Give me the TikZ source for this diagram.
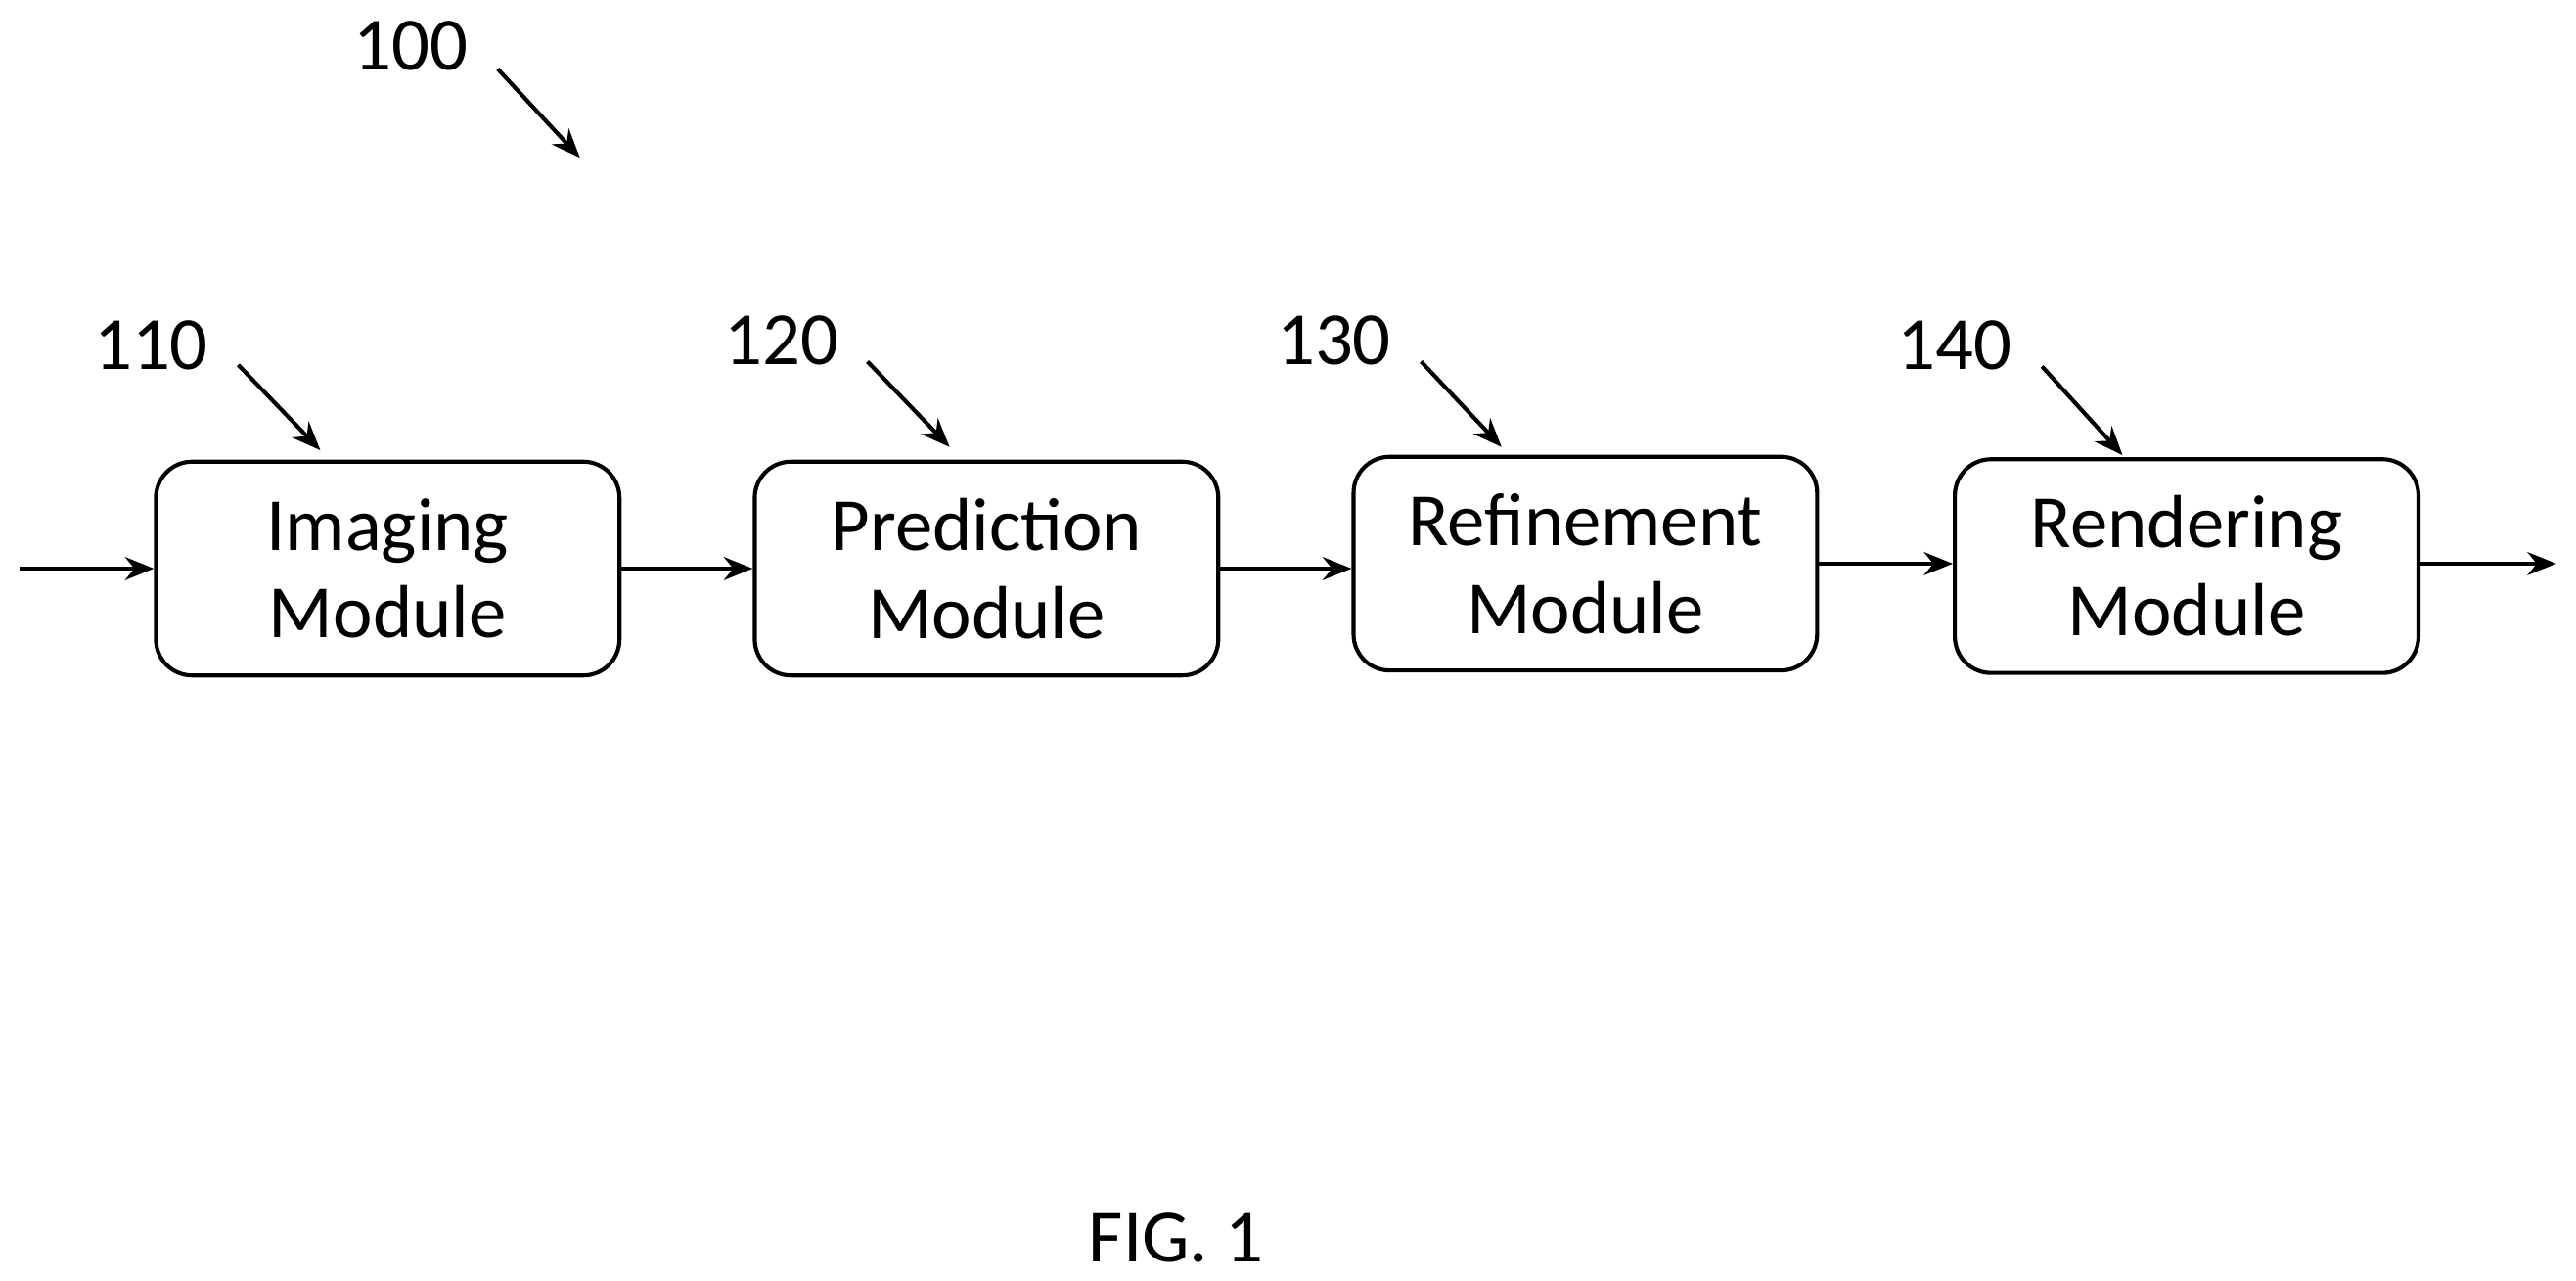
\documentclass[tikz,border=0pt]{standalone}
\usepackage{fontspec}
\setmainfont{Carlito}
\usetikzlibrary{arrows.meta}
\begin{document}
\begin{tikzpicture}[x=0.01cm,y=-0.01cm,
  box/.style={draw,line width=0.7pt,rounded corners=0.22cm,minimum width=2.82cm,minimum height=1.3cm,align=center,inner sep=0pt,font=\fontsize{13}{15.2}\selectfont},
  lbl/.style={font=\fontsize{13}{15}\selectfont,inner sep=0pt},
  arr/.style={line width=0.7pt,-{Stealth[length=5pt,width=4pt]}}]
\useasboundingbox (0,0) rectangle (1568,779.5);
\node[box] (b1) at (236,346) {Imaging\\Module};
\node[box] (b2) at (600.5,346) {Prediction\\Module};
\node[box] (b3) at (965,343) {Refinement\\Module};
\node[box] (b4) at (1331,344.5) {Rendering\\Module};
\coordinate (in) at (12,346);
\coordinate (out) at (1556,343);
\draw[arr] (in) -- (b1.west|-in);
\draw[arr] (b1.east) -- (b2.west);
\draw[arr] (b2.east|-0,346) -- (b3.west|-0,346);
\draw[arr] (b3.east|-0,343) -- (b4.west|-0,343);
\draw[arr] (b4.east|-out) -- (out);
\node[lbl] (l0) at (250,28) {100};
\node[lbl] (l1) at (92,210) {110};
\node[lbl] (l2) at (476,207) {120};
\node[lbl] (l3) at (812,207) {130};
\node[lbl] (l4) at (1190,210) {140};
\coordinate (a0) at (353,96);
\coordinate (a1) at (195,274);
\coordinate (a2) at (578,272);
\coordinate (a3) at (914,272);
\coordinate (a4) at (1292,277);
\draw[arr] (303,42) -- (a0);
\draw[arr] (145,222) -- (a1);
\draw[arr] (528,220) -- (a2);
\draw[arr] (865,220) -- (a3);
\draw[arr] (1243,223) -- (a4);
\node[lbl] (fig) at (716,753) {FIG. 1};
\end{tikzpicture}
\end{document}
